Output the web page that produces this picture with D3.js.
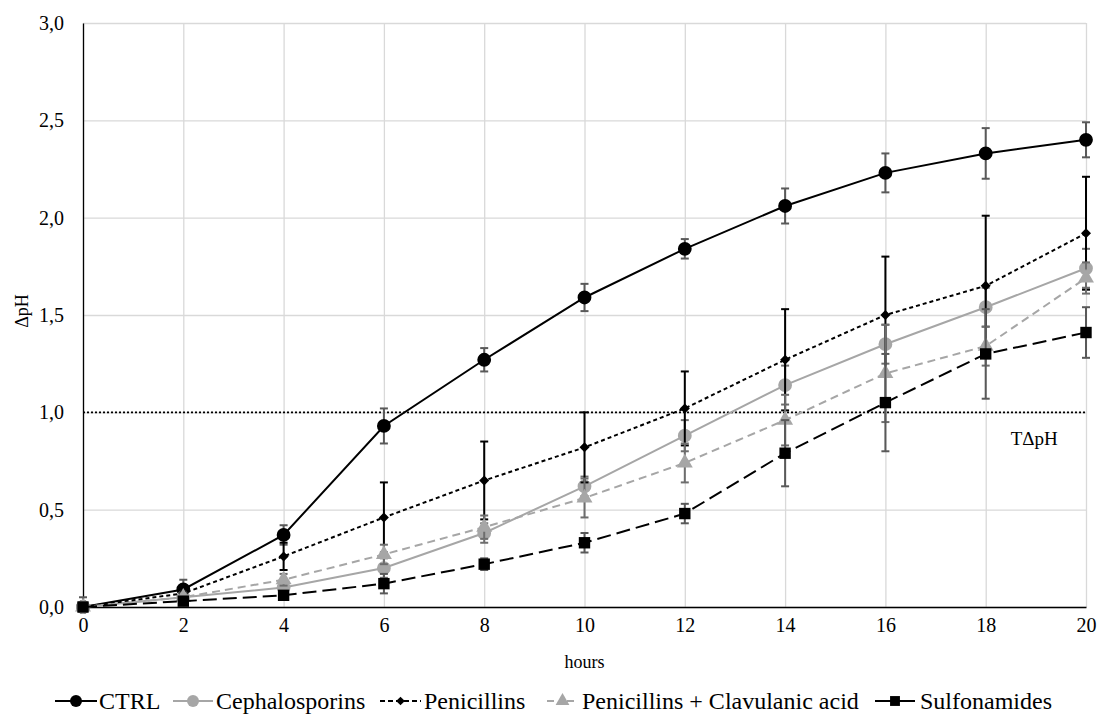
<!DOCTYPE html>
<html>
<head>
<meta charset="utf-8">
<script src="https://cdn.jsdelivr.net/npm/d3@7"></script>
<style>
  body { margin: 0; background: #fff; }
</style>
</head>
<body>
<div id="chart"></div>
<script>
// Values
const hours = [0, 2, 4, 6, 8, 10, 12, 14, 16, 18, 20];
const yTicks = [0, 0.5, 1.0, 1.5, 2.0, 2.5, 3.0];
const threshold = 1.0;

const ctrl = [0, 0.09, 0.37, 0.93, 1.27, 1.59, 1.84, 2.06, 2.23, 2.33, 2.40];
const ctrlErr = [0.05, 0.05, 0.05, 0.09, 0.06, 0.07, 0.05, 0.09, 0.10, 0.13, 0.09];
const ceph = [0, 0.05, 0.10, 0.20, 0.38, 0.62, 0.88, 1.14, 1.35, 1.54, 1.74];
const cephErr = [0.02, 0.02, 0.03, 0.05, 0.05, 0.05, 0.08, 0.10, 0.10, 0.10, 0.10];
const pen = [0, 0.07, 0.26, 0.46, 0.65, 0.82, 1.02, 1.27, 1.50, 1.65, 1.92];
const penErr = [0.02, 0.03, 0.07, 0.18, 0.20, 0.18, 0.19, 0.26, 0.30, 0.36, 0.29];
const penClav = [0, 0.05, 0.14, 0.27, 0.41, 0.56, 0.74, 0.96, 1.20, 1.34, 1.69];
const penClavErr = [0.02, 0.02, 0.03, 0.05, 0.06, 0.10, 0.10, 0.13, 0.25, 0.10, 0.08];
const sulf = [0, 0.03, 0.06, 0.12, 0.22, 0.33, 0.48, 0.79, 1.05, 1.30, 1.41];
const sulfErr = [0.01, 0.01, 0.02, 0.05, 0.03, 0.05, 0.05, 0.17, 0.25, 0.23, 0.13];

const FONT = "'Liberation Serif', 'Times New Roman', Times, serif";

const series = [
  { name: "CTRL", values: ctrl, err: ctrlErr, color: "#000", errColor: "#595959", dash: null, legDash: null, symbol: d3.symbolCircle, size: 150, rot: 0 },
  { name: "Cephalosporins", values: ceph, err: cephErr, color: "#a6a6a6", errColor: "#6d6d6d", dash: null, legDash: null, symbol: d3.symbolCircle, size: 150, rot: 0 },
  { name: "Penicillins", values: pen, err: penErr, color: "#000", errColor: "#000", dash: "4,3", legDash: "5,3", symbol: d3.symbolSquare, size: 50, rot: 45 },
  { name: "Penicillins + Clavulanic acid", values: penClav, err: penClavErr, color: "#a6a6a6", errColor: "#6d6d6d", dash: "8,5", legDash: "7,13", symbol: d3.symbolTriangle, size: 110, rot: 0 },
  { name: "Sulfonamides", values: sulf, err: sulfErr, color: "#000", errColor: "#595959", dash: "14,6", legDash: null, symbol: d3.symbolSquare, size: 130, rot: 0 }
];

const W = 1099, H = 723;
const margin = { top: 23, right: 13, bottom: 116, left: 83 };
const width = W - margin.left - margin.right;
const height = H - margin.top - margin.bottom;

const svg = d3.select("#chart").append("svg")
  .attr("width", W).attr("height", H)
  .attr("font-family", FONT);
const g = svg.append("g")
  .attr("transform", `translate(${margin.left},${margin.top})`);

const x = d3.scaleLinear().domain([0, 20]).range([0, width]);
const y = d3.scaleLinear().domain([0, 3]).range([height, 0]);
const fmt = d => d3.format(".1f")(d).replace(".", ",");

// Grid
g.append("g")
  .call(d3.axisLeft(y).tickValues(yTicks).tickSize(-width).tickFormat(""))
  .call(s => s.select(".domain").remove())
  .call(s => s.selectAll("line").attr("stroke", "#d9d9d9").attr("stroke-width", 1.3));
g.append("g")
  .call(d3.axisBottom(x).tickValues(hours).tickSize(height).tickFormat(""))
  .call(s => s.select(".domain").remove())
  .call(s => s.selectAll("line").attr("stroke", "#d9d9d9").attr("stroke-width", 1.3));

// Axes
const xAxis = g.append("g")
  .attr("transform", `translate(0,${height})`)
  .call(d3.axisBottom(x).tickValues(hours).tickSize(0).tickPadding(11));
xAxis.attr("font-family", FONT);
xAxis.select(".domain").attr("stroke", "#000").attr("stroke-width", 1.3);
xAxis.selectAll("text").attr("font-size", "20px");

const yAxis = g.append("g")
  .call(d3.axisLeft(y).tickValues(yTicks).tickSize(0).tickPadding(19).tickFormat(fmt));
yAxis.attr("font-family", FONT);
yAxis.select(".domain").attr("stroke", "#000").attr("stroke-width", 1.3);
yAxis.selectAll("text").attr("font-size", "20px");

// Threshold line
g.append("line")
  .attr("x1", 0).attr("x2", width)
  .attr("y1", y(threshold)).attr("y2", y(threshold))
  .attr("stroke", "#000").attr("stroke-width", 1.8)
  .attr("stroke-dasharray", "2,2");
g.append("text")
  .attr("x", x(18.5)).attr("y", y(threshold) + 33)
  .attr("font-size", "19px")
  .text("TΔpH");

// Axis titles
svg.append("text")
  .attr("x", margin.left + width / 2).attr("y", 668)
  .attr("text-anchor", "middle").attr("font-size", "18px")
  .text("hours");
svg.append("text")
  .attr("transform", `translate(28,${margin.top + height / 2 - 4}) rotate(-90)`)
  .attr("text-anchor", "middle").attr("font-size", "18px")
  .text("ΔpH");

// Series
const line = d3.line().x((d, i) => x(hours[i])).y(d => y(d));

series.forEach(s => {
  const sg = g.append("g");
  // error bars
  s.values.forEach((v, i) => {
    const cx = x(hours[i]);
    const y1 = y(v + s.err[i]), y2 = y(Math.max(0, v - s.err[i]));
    sg.append("line").attr("x1", cx).attr("x2", cx).attr("y1", y1).attr("y2", y2)
      .attr("stroke", s.errColor).attr("stroke-width", 2);
    [y1, y2].forEach(yy => sg.append("line")
      .attr("x1", cx - 4).attr("x2", cx + 4).attr("y1", yy).attr("y2", yy)
      .attr("stroke", s.errColor).attr("stroke-width", 2));
  });
  sg.append("path").datum(s.values)
    .attr("fill", "none").attr("stroke", s.color).attr("stroke-width", 2)
    .attr("stroke-dasharray", s.dash)
    .attr("d", line);
  sg.selectAll(".pt").data(s.values).join("path")
    .attr("transform", (d, i) => `translate(${x(hours[i])},${y(d)}) rotate(${s.rot})`)
    .attr("d", d3.symbol().type(s.symbol).size(s.size))
    .attr("fill", s.color);
});

// Legend
const legendItems = [
  { x0: 55, x1: 97, tx: 99 },
  { x0: 173, x1: 213, tx: 216 },
  { x0: 380, x1: 421, tx: 424 },
  { x0: 547, x1: 578, tx: 582 },
  { x0: 875, x1: 915, tx: 920 }
];
const ly = 701;
series.forEach((s, i) => {
  const li = legendItems[i];
  const lg = svg.append("g");
  lg.append("line").attr("x1", li.x0).attr("x2", li.x1)
    .attr("y1", ly).attr("y2", ly)
    .attr("stroke", s.color).attr("stroke-width", 2.2)
    .attr("stroke-dasharray", s.legDash);
  lg.append("path")
    .attr("transform", `translate(${(li.x0 + li.x1) / 2},${ly}) rotate(${s.rot})`)
    .attr("d", d3.symbol().type(s.symbol).size(s.size * 0.75))
    .attr("fill", s.color);
  lg.append("text").attr("x", li.tx).attr("y", ly + 8)
    .attr("font-size", "24px")
    .text(s.name);
});
</script>
</body>
</html>
